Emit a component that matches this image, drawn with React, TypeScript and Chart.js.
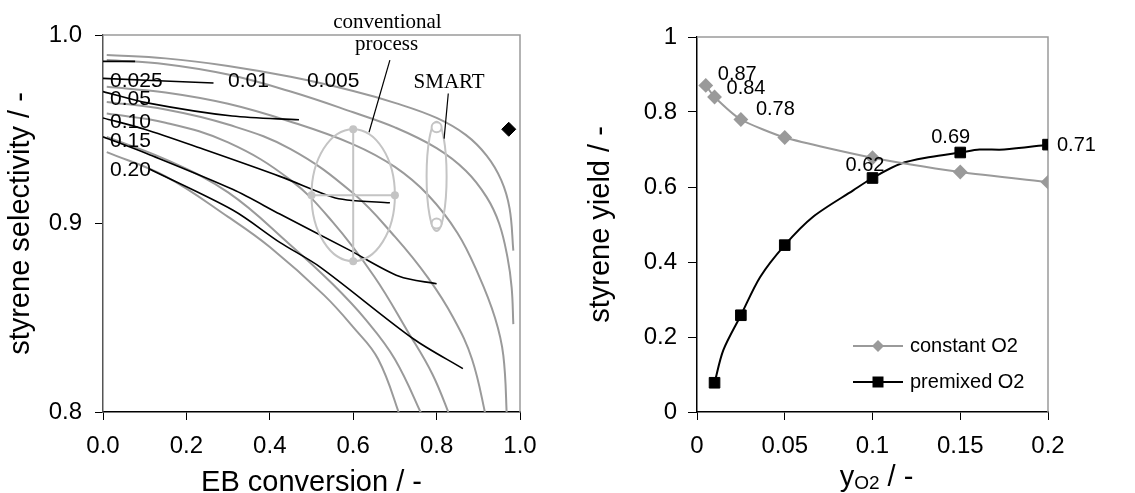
import React, { useEffect, useRef } from "react";
import { Chart, registerables } from "chart.js";
Chart.register(...registerables);

const SANS = "'Liberation Sans', Arial, sans-serif";
const SERIF = "'Liberation Serif', 'Times New Roman', serif";

// ---------------- Left panel data ----------------
const leftXTicks = [0, 0.2, 0.4, 0.6, 0.8, 1.0];
const leftYTicks = [0.8, 0.9, 1.0];

type Pt = [number, number];

// gray curves (constant O2 operation)
const grayCurve1: Pt[] = [[0.009,0.9894],[0.15,0.9876],[0.3,0.9836],[0.45,0.9778],[0.6,0.9703],[0.7,0.964],[0.8,0.956],[0.87,0.947],[0.92,0.936],[0.955,0.923],[0.975,0.908],[0.984,0.8856]];
const grayCurve2: Pt[] = [[0.009,0.9867],[0.15,0.9845],[0.3,0.979],[0.45,0.970],[0.6,0.959],[0.7,0.951],[0.8,0.940],[0.87,0.928],[0.92,0.914],[0.95,0.900],[0.97,0.882],[0.98,0.866],[0.984,0.8466]];
const grayCurve3: Pt[] = [[0.009,0.9725],[0.15,0.9695],[0.3,0.9635],[0.45,0.954],[0.6,0.942],[0.7,0.930],[0.78,0.915],[0.85,0.895],[0.9,0.873],[0.94,0.850],[0.96,0.830],[0.969,0.795]];
const grayCurve4: Pt[] = [[0.009,0.9645],[0.15,0.9605],[0.3,0.9525],[0.45,0.9395],[0.6,0.916],[0.7,0.893],[0.78,0.871],[0.84,0.850],[0.885,0.828],[0.921,0.795]];
const grayCurve5: Pt[] = [[0.009,0.9583],[0.15,0.9535],[0.3,0.943],[0.45,0.923],[0.55,0.901],[0.65,0.872],[0.73,0.843],[0.79,0.820],[0.837,0.795]];
const grayCurve6: Pt[] = [[0.009,0.9459],[0.15,0.934],[0.3,0.9165],[0.45,0.8885],[0.55,0.868],[0.63,0.849],[0.70,0.828],[0.772,0.795]];
const grayCurve7: Pt[] = [[0.009,0.9379],[0.15,0.925],[0.3,0.9035],[0.4,0.8875],[0.53,0.862],[0.6,0.845],[0.66,0.828],[0.717,0.795]];

// black curves (premixed O2 operation)
const blackLineA: Pt[] = [[0,0.986],[0.077,0.986]];
const blackLineB: Pt[] = [[0,0.977],[0.265,0.9745]];
const blackLineC: Pt[] = [[0,0.970],[0.106,0.964],[0.31,0.957],[0.47,0.955]];
const blackLineD: Pt[] = [[0,0.956],[0.10,0.950],[0.233,0.940],[0.424,0.925],[0.55,0.914],[0.585,0.9125],[0.688,0.911]];
const blackLineE: Pt[] = [[0,0.946],[0.106,0.937],[0.312,0.918],[0.424,0.905],[0.59,0.886],[0.71,0.872],[0.80,0.868]];
const blackLineF: Pt[] = [[0.11,0.929],[0.312,0.907],[0.424,0.890],[0.52,0.877],[0.743,0.839],[0.863,0.823]];

// O2 fraction labels
const o2LabelText = ["0.025", "0.01", "0.005", "0.05", "0.10", "0.15", "0.20"];
const o2LabelX = [0.017, 0.30, 0.489, 0.017, 0.017, 0.017, 0.017];
const o2LabelY = [0.9753, 0.9753, 0.9753, 0.9657, 0.954, 0.9434, 0.9285];

// conventional process point with error bars
const conventionalX = [0.6];
const conventionalY = [0.915];
const conventionalErrX = [0.1];
const conventionalErrY = [0.035];

// SMART points and enclosing ellipse
const smartX = [0.8, 0.8];
const smartY = [0.951, 0.900];
const smartEllipseCenter: Pt = [0.8, 0.925];
const smartEllipseRadii: Pt = [0.024, 0.029];

// reference point (black diamond)
const referenceX = [0.973];
const referenceY = [0.950];

// annotation texts
const annotationText = ["conventional", "process", "SMART"];
const annotationX = [0.682, 0.680, 0.830];
const annotationY = [1.0039, 0.9918, 0.9718];
const leaderProcess: Pt[] = [[0.688, 0.9867], [0.638, 0.9484]];
const leaderSmart: Pt[] = [[0.828, 0.969], [0.818, 0.945]];

// ---------------- Right panel data ----------------
const rightXTicks = [0, 0.05, 0.1, 0.15, 0.2];
const rightYTicks = [0, 0.2, 0.4, 0.6, 0.8, 1];
const constantYO2 = [0.005, 0.01, 0.025, 0.05, 0.1, 0.15, 0.2];
const constantYield = [0.871, 0.84, 0.78, 0.732, 0.678, 0.64, 0.613];
const premixedYO2 = [0.01, 0.025, 0.05, 0.1, 0.15, 0.2];
const premixedYield = [0.078, 0.258, 0.445, 0.624, 0.692, 0.713];
const premixedCurveX = [0.01, 0.015, 0.025, 0.036, 0.05, 0.066, 0.089, 0.1, 0.116, 0.133, 0.15, 0.161, 0.175, 0.2];
const premixedCurveY = [0.078, 0.165, 0.258, 0.36, 0.445, 0.52, 0.591, 0.624, 0.662, 0.68, 0.692, 0.70, 0.70, 0.713];
const constantLabelIdx = [0, 1, 2];
const premixedLabelIdx = [3, 4, 5];
const legendNames = ["constant O2", "premixed O2"];

// ---------------- helpers ----------------
const toXY = (pts: Pt[]) => pts.map(([x, y]) => ({ x, y }));
const zipXY = (xs: number[], ys: number[]) => xs.map((x, i) => ({ x, y: ys[i] }));

const GRAY = "#9a9a9a";
const LIGHT = "#c4c4c4";

function grayDs(pts: Pt[]) {
  return { data: toXY(pts), showLine: true, borderColor: GRAY, borderWidth: 2, pointRadius: 0, tension: 0.4, fill: false };
}
function blackDs(pts: Pt[]) {
  return { data: toXY(pts), showLine: true, borderColor: "#000", borderWidth: 1.6, pointRadius: 0, tension: 0.3, fill: false };
}

const leftOverlay = {
  id: "leftOverlay",
  beforeDatasetsDraw(chart: any) {
    const { ctx, chartArea: ca } = chart;
    ctx.save();
    ctx.strokeStyle = "#9a9a9a";
    ctx.lineWidth = 1.5;
    ctx.beginPath();
    ctx.moveTo(ca.left, ca.top);
    ctx.lineTo(ca.right, ca.top);
    ctx.lineTo(ca.right, ca.bottom);
    ctx.stroke();
    ctx.restore();
  },
  afterDatasetsDraw(chart: any) {
    const { ctx, scales } = chart;
    const x = scales.x, y = scales.y;
    ctx.save();
    ctx.strokeStyle = LIGHT;
    ctx.fillStyle = LIGHT;
    ctx.lineWidth = 2;
    conventionalX.forEach((cx, i) => {
      const cy = conventionalY[i];
      const px = x.getPixelForValue(cx), py = y.getPixelForValue(cy);
      const x0 = x.getPixelForValue(cx - conventionalErrX[i]);
      const x1 = x.getPixelForValue(cx + conventionalErrX[i]);
      const y0 = y.getPixelForValue(cy + conventionalErrY[i]);
      const y1 = y.getPixelForValue(cy - conventionalErrY[i]);
      ctx.beginPath();
      ctx.moveTo(x0, py); ctx.lineTo(x1, py);
      ctx.moveTo(px, y0); ctx.lineTo(px, y1);
      ctx.stroke();
      ctx.beginPath();
      ctx.ellipse(px, py, (x1 - x0) / 2, (y1 - y0) / 2, 0, 0, Math.PI * 2);
      ctx.stroke();
      [[x0, py], [x1, py], [px, y0], [px, y1]].forEach(([a, b]) => {
        ctx.beginPath(); ctx.arc(a, b, 4, 0, Math.PI * 2); ctx.fill();
      });
    });
    const sx = x.getPixelForValue(smartEllipseCenter[0]);
    const sy = y.getPixelForValue(smartEllipseCenter[1]);
    const srx = x.getPixelForValue(smartEllipseCenter[0] + smartEllipseRadii[0]) - sx;
    const sry = sy - y.getPixelForValue(smartEllipseCenter[1] + smartEllipseRadii[1]);
    ctx.beginPath();
    ctx.ellipse(sx, sy, srx, sry, 0, 0, Math.PI * 2);
    ctx.stroke();
    smartX.forEach((v, i) => {
      ctx.beginPath();
      ctx.arc(x.getPixelForValue(v), y.getPixelForValue(smartY[i]), 5, 0, Math.PI * 2);
      ctx.fillStyle = "#fff";
      ctx.fill();
      ctx.stroke();
    });
    ctx.strokeStyle = "#000";
    ctx.lineWidth = 1.2;
    [leaderProcess, leaderSmart].forEach((seg) => {
      ctx.beginPath();
      ctx.moveTo(x.getPixelForValue(seg[0][0]), y.getPixelForValue(seg[0][1]));
      ctx.lineTo(x.getPixelForValue(seg[1][0]), y.getPixelForValue(seg[1][1]));
      ctx.stroke();
    });
    ctx.restore();
  },
  afterDraw(chart: any) {
    const { ctx, chartArea: ca, scales } = chart;
    const x = scales.x, y = scales.y;
    ctx.save();
    ctx.fillStyle = "#000";
    ctx.font = `21px ${SANS}`;
    ctx.textAlign = "left";
    ctx.textBaseline = "middle";
    o2LabelText.forEach((t, i) => {
      ctx.fillText(t, x.getPixelForValue(o2LabelX[i]), y.getPixelForValue(o2LabelY[i]));
    });
    ctx.font = `21px ${SERIF}`;
    ctx.textAlign = "center";
    ctx.textBaseline = "alphabetic";
    annotationText.forEach((t, i) => {
      ctx.fillText(t, x.getPixelForValue(annotationX[i]), y.getPixelForValue(annotationY[i]));
    });
    ctx.font = `29px ${SANS}`;
    ctx.textAlign = "center";
    ctx.textBaseline = "alphabetic";
    ctx.fillText("EB conversion / -", (ca.left + ca.right) / 2, 491);
    ctx.translate(29, (ca.top + ca.bottom) / 2);
    ctx.rotate(-Math.PI / 2);
    ctx.fillText("styrene selectivity / -", 0, 0);
    ctx.restore();
  },
};

const rightOverlay = {
  id: "rightOverlay",
  beforeDatasetsDraw(chart: any) {
    const { ctx, chartArea: ca } = chart;
    ctx.save();
    ctx.strokeStyle = "#9a9a9a";
    ctx.lineWidth = 1.5;
    ctx.beginPath();
    ctx.moveTo(ca.left, ca.top);
    ctx.lineTo(ca.right, ca.top);
    ctx.lineTo(ca.right, ca.bottom);
    ctx.stroke();
    ctx.restore();
  },
  afterDraw(chart: any) {
    const { ctx, chartArea: ca, scales } = chart;
    const x = scales.x, y = scales.y;
    ctx.save();
    ctx.fillStyle = "#000";
    ctx.font = `20px ${SANS}`;
    ctx.textAlign = "left";
    ctx.textBaseline = "middle";
    const constOffsets: Pt[] = [[12, -11], [12, -9], [15, -10]];
    constantLabelIdx.forEach((idx, k) => {
      const px = x.getPixelForValue(constantYO2[idx]);
      const py = y.getPixelForValue(constantYield[idx]);
      ctx.fillText(constantYield[idx].toFixed(2), px + constOffsets[k][0], py + constOffsets[k][1]);
    });
    const premOffsets: Pt[] = [[-27, -13], [-29, -15], [9, 1]];
    premixedLabelIdx.forEach((idx, k) => {
      const px = x.getPixelForValue(premixedYO2[idx]);
      const py = y.getPixelForValue(premixedYield[idx]);
      ctx.fillText(premixedYield[idx].toFixed(2), px + premOffsets[k][0], py + premOffsets[k][1]);
    });
    const lx0 = ca.left + 156, lx1 = ca.left + 206, tx = ca.left + 213;
    const rows = [ca.top + 309, ca.top + 345];
    rows.forEach((ry, i) => {
      ctx.strokeStyle = i === 0 ? GRAY : "#000";
      ctx.lineWidth = 2;
      ctx.beginPath(); ctx.moveTo(lx0, ry); ctx.lineTo(lx1, ry); ctx.stroke();
      const mx = (lx0 + lx1) / 2;
      ctx.fillStyle = i === 0 ? GRAY : "#000";
      ctx.beginPath();
      if (i === 0) {
        ctx.moveTo(mx - 6, ry); ctx.lineTo(mx, ry - 6); ctx.lineTo(mx + 6, ry); ctx.lineTo(mx, ry + 6); ctx.closePath();
      } else {
        ctx.rect(mx - 5.5, ry - 5.5, 11, 11);
      }
      ctx.fill();
      ctx.fillStyle = "#000";
      ctx.fillText(legendNames[i], tx, ry);
    });
    ctx.textBaseline = "alphabetic";
    ctx.textAlign = "left";
    const big = `29px ${SANS}`, small = `19px ${SANS}`;
    ctx.font = big; const w1 = ctx.measureText("y").width; const w3 = ctx.measureText(" / -").width;
    ctx.font = small; const w2 = ctx.measureText("O2").width;
    let sx = (ca.left + ca.right) / 2 + 4 - (w1 + w2 + w3) / 2;
    const base = 486;
    ctx.font = big; ctx.fillText("y", sx, base); sx += w1;
    ctx.font = small; ctx.fillText("O2", sx, base + 3); sx += w2;
    ctx.font = big; ctx.fillText(" / -", sx, base);
    ctx.textAlign = "center";
    ctx.translate(49, (ca.top + ca.bottom) / 2);
    ctx.rotate(-Math.PI / 2);
    ctx.fillText("styrene yield / -", 0, 0);
    ctx.restore();
  },
};

function leftConfig(): any {
  return {
    type: "scatter",
    data: {
      datasets: [
        { data: zipXY(referenceX, referenceY), pointStyle: "rectRot", pointRadius: 7, backgroundColor: "#000", borderColor: "#000", showLine: false },
        blackDs(blackLineA), blackDs(blackLineB), blackDs(blackLineC), blackDs(blackLineD), blackDs(blackLineE), blackDs(blackLineF),
        grayDs(grayCurve1), grayDs(grayCurve2), grayDs(grayCurve3), grayDs(grayCurve4), grayDs(grayCurve5), grayDs(grayCurve6), grayDs(grayCurve7),
      ],
    },
    options: {
      responsive: false,
      devicePixelRatio: 1,
      animation: false,
      layout: { padding: { top: 35, right: 40, left: 0, bottom: 0 } },
      plugins: { legend: { display: false }, tooltip: { enabled: false } },
      scales: {
        x: {
          type: "linear", min: 0, max: 1,
          afterBuildTicks: (s: any) => { s.ticks = leftXTicks.map((v) => ({ value: v })); },
          afterFit: (s: any) => { s.height = 81; },
          ticks: { callback: (v: any) => Number(v).toFixed(1), font: { family: SANS, size: 24 }, color: "#000", padding: 12, maxRotation: 0, autoSkip: false },
          grid: { drawOnChartArea: false, drawTicks: true, tickLength: 8, color: "#000" },
          border: { color: "#000", width: 1.5 },
        },
        y: {
          type: "linear", min: 0.8, max: 1.0,
          afterBuildTicks: (s: any) => { s.ticks = leftYTicks.map((v) => ({ value: v })); },
          afterFit: (s: any) => { s.width = 103; },
          ticks: { callback: (v: any) => Number(v).toFixed(1), font: { family: SANS, size: 24 }, color: "#000", padding: 13, autoSkip: false },
          grid: { drawOnChartArea: false, drawTicks: true, tickLength: 8, color: "#000" },
          border: { color: "#555", width: 1.5 },
        },
      },
    },
    plugins: [leftOverlay],
  };
}

function rightConfig(): any {
  return {
    type: "scatter",
    data: {
      datasets: [
        { data: zipXY(premixedYO2, premixedYield), pointStyle: "rect", pointRadius: 7.5, backgroundColor: "#000", borderColor: "#000", showLine: false },
        { data: zipXY(constantYO2, constantYield), pointStyle: "rectRot", pointRadius: 6, backgroundColor: GRAY, borderColor: GRAY, borderWidth: 2, showLine: true, tension: 0.2 },
        { data: zipXY(premixedCurveX, premixedCurveY), pointRadius: 0, borderColor: "#000", borderWidth: 2, showLine: true, tension: 0.3 },
      ],
    },
    options: {
      responsive: false,
      devicePixelRatio: 1,
      animation: false,
      layout: { padding: { top: 37, right: 87, left: 0, bottom: 0 } },
      plugins: { legend: { display: false }, tooltip: { enabled: false } },
      scales: {
        x: {
          type: "linear", min: 0, max: 0.2,
          afterBuildTicks: (s: any) => { s.ticks = rightXTicks.map((v) => ({ value: v })); },
          afterFit: (s: any) => { s.height = 81; },
          ticks: { callback: (v: any) => String(Math.round(Number(v) * 100) / 100), font: { family: SANS, size: 24 }, color: "#000", padding: 12, maxRotation: 0, autoSkip: false },
          grid: { drawOnChartArea: false, drawTicks: true, tickLength: 8, color: "#000" },
          border: { color: "#000", width: 1.5 },
        },
        y: {
          type: "linear", min: 0, max: 1,
          afterBuildTicks: (s: any) => { s.ticks = rightYTicks.map((v) => ({ value: v })); },
          afterFit: (s: any) => { s.width = 137; },
          ticks: { callback: (v: any) => String(Math.round(Number(v) * 10) / 10), font: { family: SANS, size: 24 }, color: "#000", padding: 11, autoSkip: false },
          grid: { drawOnChartArea: false, drawTicks: true, tickLength: 9, color: "#000" },
          border: { color: "#000", width: 1.5 },
        },
      },
    },
    plugins: [rightOverlay],
  };
}

export default function App() {
  const leftRef = useRef<HTMLCanvasElement>(null);
  const rightRef = useRef<HTMLCanvasElement>(null);
  useEffect(() => {
    const l = new Chart(leftRef.current as HTMLCanvasElement, leftConfig());
    const r = new Chart(rightRef.current as HTMLCanvasElement, rightConfig());
    return () => { l.destroy(); r.destroy(); };
  }, []);
  return (
    <div style={{ position: "fixed", left: 0, top: 0, width: 1135, height: 493, background: "#fff" }}>
      <canvas ref={leftRef} width={560} height={493} style={{ position: "absolute", left: 0, top: 0, width: 560, height: 493 }} />
      <canvas ref={rightRef} width={575} height={493} style={{ position: "absolute", left: 560, top: 0, width: 575, height: 493 }} />
    </div>
  );
}
